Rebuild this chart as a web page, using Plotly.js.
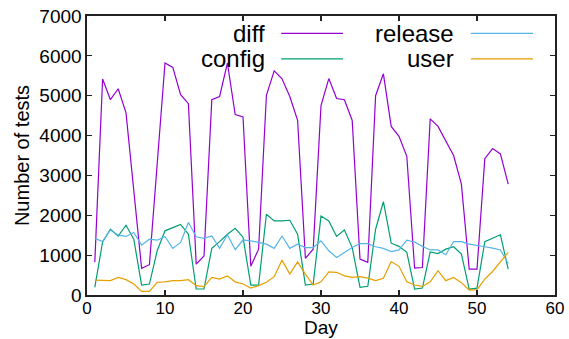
<!DOCTYPE html>
<html>
<head>
<meta charset="utf-8">
<script src="https://cdn.plot.ly/plotly-3.0.1.min.js"></script>
<style>html,body{margin:0;padding:0;background:#fff;}#chart{width:569px;height:339px;}</style>
</head>
<body>
<div id="chart"></div>
<script>
const days = [];
for (let d = 1; d <= 54; d++) days.push(d);

const seriesNames = ["diff", "config", "release", "user"];
const seriesColors = ["#9400D3", "#009E73", "#56B4E9", "#E69F00"];

const diffVals = [820,5420,4900,5175,4570,2600,670,760,3300,5820,5710,5025,4800,775,980,4900,4980,5820,4525,4470,720,1150,5010,5625,5425,4980,4380,920,1150,4750,5430,4930,4900,4380,900,820,5000,5550,4230,3980,3480,675,690,4420,4230,3860,3500,2780,650,650,3420,3675,3540,2780];
const configVals = [190,1330,1650,1480,1750,1400,250,275,1110,1610,1690,1770,1525,150,150,1170,1340,1525,1675,1450,250,250,2025,1860,1860,1875,1525,250,275,1980,1860,1470,1630,1190,190,220,1650,2340,1300,1220,1070,150,175,1080,1040,1150,1210,1025,150,170,1340,1425,1510,650];
const releaseVals = [1420,1340,1630,1500,1470,1570,1250,1400,1375,1470,1170,1320,1820,1460,1420,1480,1170,1510,1140,1380,1360,1320,1275,1170,1480,1170,1275,1190,1190,1360,1110,940,1070,1190,1290,1290,1210,1170,1090,1130,1375,1330,1220,1130,1130,1010,1340,1340,1275,1250,1210,1175,1130,790];
const userVals = [375,375,360,440,385,275,90,90,320,330,360,360,385,235,210,440,400,480,330,275,175,235,320,460,875,525,830,525,250,330,580,570,480,440,460,425,360,420,840,720,330,250,215,330,610,360,440,310,125,135,400,590,820,1070];

const xTicks = [0,10,20,30,40,50,60];
const yTicks = [0,1000,2000,3000,4000,5000,6000,7000];
const xTitle = "Day";
const yTitle = "Number of tests";

const FONT = "Liberation Sans, Arial, Helvetica, sans-serif";

const allVals = [diffVals, configVals, releaseVals, userVals];
const traces = allVals.map((v, i) => ({
  x: days, y: v, type: "scatter", mode: "lines", name: seriesNames[i],
  line: {color: seriesColors[i], width: 1.2}, showlegend: false
}));

// legend (gnuplot style: text then line sample), two columns
const legendPos = [
  {tx: 0.385, y: 0.938, lx0: 0.415, lx1: 0.547},
  {tx: 0.385, y: 0.846, lx0: 0.415, lx1: 0.547},
  {tx: 0.788, y: 0.938, lx0: 0.82, lx1: 0.953},
  {tx: 0.788, y: 0.846, lx0: 0.82, lx1: 0.953}
];
const annotations = seriesNames.map((n, i) => ({
  xref: "paper", yref: "paper", x: legendPos[i].tx, y: legendPos[i].y,
  xanchor: "right", yanchor: "middle", text: n, showarrow: false,
  font: {family: FONT, size: 24, color: "#000"}
}));
// x-axis title placed as annotation at the bottom edge
annotations.push({
  xref: "paper", yref: "paper", x: 0.5, y: -0.156, xanchor: "center", yanchor: "bottom",
  text: xTitle, showarrow: false, borderpad: 0,
  font: {family: FONT, size: 19, color: "#000"}
});
const shapes = seriesNames.map((n, i) => ({
  type: "line", xref: "paper", yref: "paper",
  x0: legendPos[i].lx0, x1: legendPos[i].lx1, y0: legendPos[i].y, y1: legendPos[i].y,
  line: {color: seriesColors[i], width: 1.2}
}));

const axisCommon = {
  showline: true, linecolor: "#222", linewidth: 1.6, mirror: "allticks",
  ticks: "inside", ticklen: 5, tickcolor: "#222", tickwidth: 1.2,
  showgrid: false, zeroline: false,
  tickfont: {family: FONT, size: 19, color: "#000"}
};

const layout = {
  width: 569, height: 339,
  margin: {l: 87, r: 14, t: 16, b: 44},
  paper_bgcolor: "#fff", plot_bgcolor: "#fff",
  xaxis: Object.assign({}, axisCommon, {
    range: [0, 60], tickvals: xTicks, ticktext: xTicks.map(String),
    tickfont: {family: FONT, size: 17, color: "#000"},
    ticklabelstandoff: -3
  }),
  yaxis: Object.assign({}, axisCommon, {
    range: [0, 7000], tickvals: yTicks, ticktext: yTicks.map(String),
    title: {text: yTitle, standoff: 4, font: {family: FONT, size: 20, color: "#000"}}
  }),
  annotations: annotations,
  shapes: shapes
};

Plotly.newPlot("chart", traces, layout, {staticPlot: true, displayModeBar: false});
</script>
</body>
</html>
